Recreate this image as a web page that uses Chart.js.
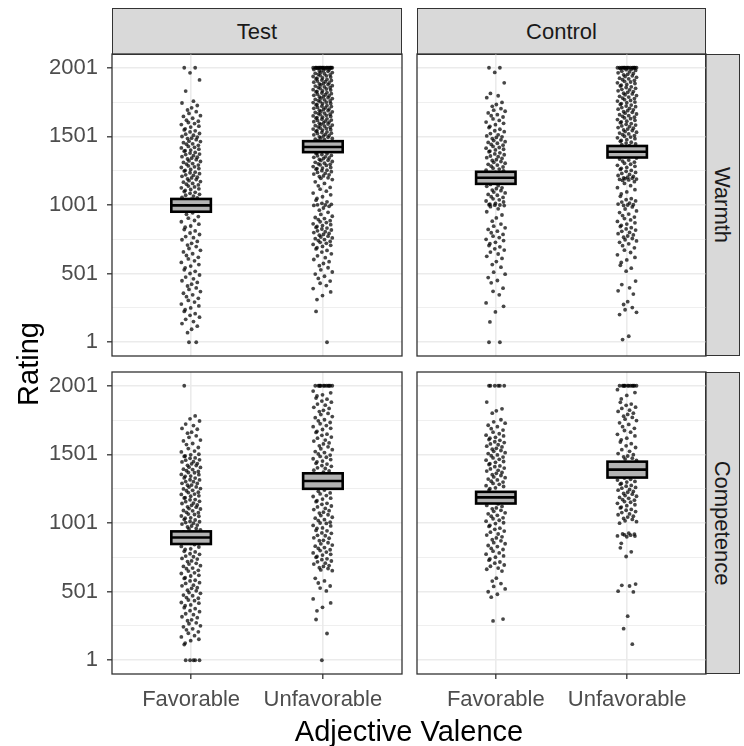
<!DOCTYPE html>
<html>
<head>
<meta charset="utf-8">
<script src="https://cdn.jsdelivr.net/npm/chart.js@4.4.1/dist/chart.umd.min.js"></script>
<style>
body { margin: 0; background: #fff; }
#wrap { position: relative; width: 744px; height: 746px; overflow: hidden; font-family: 'Liberation Sans', Arial, sans-serif; }
canvas { position: absolute; }
.strip { position: absolute; background: #d9d9d9; border: 1.3px solid #333; box-sizing: border-box; color: #1a1a1a; font-size: 22px; display: flex; align-items: center; justify-content: center; }
.vtext { transform: rotate(90deg); white-space: nowrap; }
.title { position: absolute; color: #000; font-size: 29px; line-height: 36px; text-align: center; white-space: nowrap; }
</style>
</head>
<body>
<div id="wrap">
  <div class="strip" style="left:112px;top:8px;width:290px;height:47px">Test</div>
  <div class="strip" style="left:417px;top:8px;width:289px;height:47px">Control</div>
  <div class="strip" style="left:705px;top:54px;width:35px;height:302px"><div class="vtext">Warmth</div></div>
  <div class="strip" style="left:705px;top:372px;width:35px;height:302px"><div class="vtext">Competence</div></div>
  <canvas id="tl" width="404" height="306" style="left:0px;top:52px"></canvas>
  <canvas id="tr" width="293" height="306" style="left:415px;top:52px"></canvas>
  <canvas id="bl" width="404" height="376" style="left:0px;top:370px"></canvas>
  <canvas id="br" width="293" height="376" style="left:415px;top:370px"></canvas>
  <div class="title" style="left:112px;width:594px;top:713px">Adjective Valence</div>
  <div class="title" style="left:-72px;width:200px;top:346px;transform:rotate(-90deg)">Rating</div>
</div>
<script>
// categories and ticks
const valence = ["Favorable", "Unfavorable"];
const yTicks = [1, 251, 501, 751, 1001, 1251, 1501, 1751, 2001];
const yLabels = [1, 501, 1001, 1501, 2001];

// horizontal jitter offsets, cycled over the points
const jitter = [-0.052, 0.031, -0.008, 0.064, -0.041, 0.018, -0.069, 0.047, 0.004, -0.027, 0.039, -0.016, 0.071, -0.058, 0.012, -0.035, 0.055, -0.021, 0.026, -0.074, 0.059, -0.003, -0.045];

// Warmth / Test
const warmthTestFav = [2001,2001,1964,1912,1831,1757,1744,1726,1709,1693,1681,1668,1652,1646,1633,1619,1611,1602,1594,1587,1575,1569,1556,1548,1541,1533,1522,1517,1509,1500,1496,1488,1485,1477,1466,1463,1455,1447,1444,1436,1428,1421,1417,1408,1401,1397,1393,1384,1379,1372,1368,1360,1353,1349,1342,1336,1331,1322,1318,1311,1303,1299,1292,1286,1279,1274,1266,1260,1253,1248,1240,1236,1229,1221,1217,1210,1203,1198,1191,1186,1178,1172,1167,1158,1153,1147,1139,1133,1126,1119,1114,1107,1099,1093,1086,1079,1072,1066,1057,1052,1043,1021,1006,989,972,958,944,933,917,905,888,879,861,848,839,822,812,797,786,771,763,748,736,722,709,698,684,671,659,646,633,620,608,594,583,567,556,543,529,518,502,491,476,463,449,437,424,411,397,386,370,358,347,333,321,306,294,279,266,251,238,226,209,197,184,168,152,137,118,96,71,1,1];
const warmthTestUnf = [2001,2001,2001,2001,2001,2001,2001,2001,2001,2001,2001,2001,2001,2001,2001,2001,2001,2001,2001,2001,1997,1994,1988,1986,1981,1977,1975,1968,1966,1960,1957,1953,1949,1944,1942,1937,1933,1927,1925,1919,1916,1911,1908,1904,1899,1896,1890,1887,1883,1878,1875,1870,1867,1861,1858,1855,1849,1846,1841,1838,1832,1829,1825,1820,1817,1812,1808,1804,1800,1796,1791,1788,1783,1779,1776,1770,1767,1762,1759,1754,1750,1747,1741,1739,1733,1730,1725,1721,1718,1712,1709,1705,1700,1697,1691,1688,1683,1680,1675,1671,1667,1662,1659,1654,1650,1646,1641,1638,1633,1629,1626,1620,1617,1612,1608,1605,1599,1596,1591,1588,1583,1579,1576,1570,1567,1562,1559,1554,1550,1547,1542,1538,1533,1529,1524,1521,1515,1512,1507,1503,1498,1494,1489,1486,1480,1477,1472,1446,1438,1427,1419,1404,1396,1381,1377,1374,1368,1362,1359,1352,1348,1344,1339,1333,1327,1325,1318,1312,1306,1301,1297,1293,1289,1281,1274,1270,1266,1262,1255,1251,1244,1238,1232,1226,1221,1213,1208,1199,1195,1186,1170,1158,1141,1129,1116,1102,1088,1075,1061,1049,1036,1024,1013,1006,1002,1001,998,991,979,963,948,932,919,910,902,895,887,879,873,864,858,851,845,838,833,826,819,813,806,800,794,787,781,774,768,761,756,749,742,736,729,722,714,707,699,690,681,670,658,645,631,617,604,588,575,559,544,529,513,498,482,466,447,431,414,392,368,341,312,226,1];
const warmthTestMean = [998, 1424];
const warmthTestLow = [952, 1386];
const warmthTestHigh = [1045, 1466];

// Warmth / Control
const warmthControlFav = [2001,2001,1967,1891,1814,1797,1783,1748,1733,1720,1703,1692,1684,1672,1659,1651,1642,1628,1617,1605,1596,1586,1574,1565,1553,1542,1535,1521,1512,1504,1498,1493,1485,1476,1470,1462,1457,1451,1442,1437,1428,1420,1415,1407,1402,1394,1389,1381,1373,1367,1358,1353,1346,1340,1331,1326,1317,1312,1305,1297,1292,1284,1278,1269,1263,1255,1250,1238,1222,1205,1187,1171,1162,1151,1142,1137,1126,1120,1110,1105,1095,1089,1078,1072,1062,1056,1046,1039,1030,1023,1012,1007,1003,1001,1000,997,989,973,952,928,907,883,862,847,835,823,810,799,787,774,764,751,742,729,719,706,696,682,673,658,644,627,612,589,567,548,512,497,472,451,434,395,372,347,288,263,222,149,1,1];
const warmthControlUnf = [2001,2001,2001,2001,2001,2001,2001,2001,2001,2001,2001,2001,2001,2001,2001,2001,1995,1990,1987,1981,1976,1971,1964,1959,1953,1949,1942,1937,1931,1925,1920,1914,1909,1902,1897,1891,1886,1879,1874,1868,1862,1857,1851,1844,1840,1833,1827,1822,1815,1810,1804,1798,1793,1787,1780,1776,1769,1763,1758,1751,1746,1740,1734,1729,1722,1717,1711,1705,1699,1694,1688,1681,1676,1670,1664,1659,1652,1647,1641,1635,1630,1623,1618,1612,1606,1601,1594,1589,1583,1577,1572,1565,1560,1554,1548,1543,1536,1531,1525,1519,1514,1507,1502,1496,1490,1484,1477,1471,1465,1458,1452,1446,1440,1433,1425,1410,1396,1381,1366,1352,1343,1336,1328,1321,1313,1305,1298,1290,1283,1275,1268,1260,1253,1246,1238,1231,1224,1216,1209,1203,1199,1196,1193,1190,1187,1184,1180,1171,1158,1142,1127,1113,1096,1081,1064,1047,1040,1031,1022,1015,1008,1003,1001,998,987,972,958,946,935,924,913,902,892,881,871,862,853,844,836,827,818,809,801,792,783,775,766,757,748,739,729,718,705,689,672,655,638,619,601,583,562,541,519,447,421,398,376,352,297,276,254,238,219,203,45,21];
const warmthControlMean = [1199, 1389];
const warmthControlLow = [1155, 1347];
const warmthControlHigh = [1243, 1431];

// Competence / Test
const competenceTestFav = [2001,1781,1760,1744,1722,1711,1690,1684,1663,1655,1636,1625,1605,1599,1580,1572,1551,1543,1525,1519,1502,1498,1489,1486,1475,1472,1461,1459,1448,1446,1434,1432,1421,1419,1408,1406,1393,1390,1382,1376,1369,1367,1355,1353,1343,1341,1329,1328,1316,1315,1303,1302,1290,1289,1277,1276,1264,1263,1252,1249,1239,1236,1225,1223,1212,1209,1199,1196,1185,1183,1172,1170,1159,1156,1146,1143,1132,1130,1119,1116,1106,1103,1092,1090,1079,1076,1066,1063,1052,1050,1039,1036,1026,1023,1012,1010,1004,1000,993,986,979,972,961,958,951,936,913,899,876,863,844,830,826,813,808,795,790,777,773,760,755,743,738,725,720,707,702,690,685,673,668,656,651,638,633,620,615,602,597,584,579,566,561,548,543,530,525,512,507,494,489,476,471,458,453,440,435,422,417,404,399,384,377,362,355,340,333,318,311,296,289,274,267,252,245,230,223,208,198,180,171,154,144,126,115,1,1,1,1,1];
const competenceTestUnf = [2001,2001,2001,2001,2001,2001,2001,2001,2001,2001,2001,2001,1962,1949,1935,1926,1911,1903,1889,1881,1867,1859,1844,1836,1822,1813,1799,1791,1776,1768,1753,1745,1733,1724,1711,1703,1691,1682,1669,1661,1648,1640,1627,1619,1605,1598,1584,1577,1563,1556,1542,1535,1521,1514,1504,1496,1486,1480,1469,1463,1452,1447,1436,1430,1419,1414,1403,1398,1386,1381,1372,1355,1331,1307,1284,1262,1241,1232,1220,1213,1201,1194,1182,1175,1163,1156,1144,1137,1125,1118,1107,1099,1091,1080,1073,1061,1055,1043,1036,1025,1019,1007,1001,998,983,980,965,962,947,944,929,926,911,908,893,890,875,872,857,849,840,832,822,816,806,800,789,783,773,767,757,751,740,734,724,718,708,702,691,685,675,669,659,654,598,579,564,542,527,506,448,419,387,361,298,196,1];
const competenceTestMean = [895, 1307];
const competenceTestLow = [848, 1250];
const competenceTestHigh = [940, 1363];

// Competence / Control
const competenceControlFav = [2001,2001,2001,2001,2001,2001,1882,1833,1818,1801,1753,1738,1728,1713,1703,1688,1678,1663,1651,1641,1635,1625,1619,1609,1603,1593,1587,1577,1571,1561,1555,1545,1539,1529,1523,1513,1507,1497,1491,1481,1475,1465,1459,1449,1443,1433,1427,1417,1411,1401,1395,1385,1379,1369,1363,1353,1347,1337,1331,1321,1315,1305,1299,1289,1283,1273,1267,1257,1251,1241,1219,1199,1175,1155,1140,1129,1122,1111,1104,1093,1086,1075,1068,1057,1050,1039,1032,1021,1014,1003,997,984,976,963,955,942,934,921,913,900,892,879,871,858,850,837,829,816,808,796,783,774,761,752,739,730,717,708,695,686,673,664,651,599,578,560,539,521,500,482,461,301,288];
const competenceControlUnf = [2001,2001,2001,2001,2001,2001,2001,2001,2001,2001,2001,2001,1972,1951,1930,1905,1880,1867,1858,1845,1836,1823,1814,1801,1792,1779,1770,1757,1747,1731,1719,1703,1691,1675,1663,1647,1635,1619,1607,1591,1579,1563,1551,1535,1523,1507,1499,1489,1483,1473,1467,1457,1441,1411,1385,1355,1328,1319,1314,1304,1299,1289,1284,1275,1269,1260,1255,1245,1240,1231,1225,1216,1211,1201,1196,1187,1181,1172,1167,1157,1152,1144,1134,1127,1117,1111,1100,1094,1084,1077,1067,1061,1050,1044,1034,1027,1017,1011,1000,927,921,920,914,912,907,906,901,853,820,791,757,556,547,542,504,499,322,231,118];
const competenceControlMean = [1188, 1390];
const competenceControlLow = [1143, 1332];
const competenceControlHigh = [1228, 1448];

Chart.defaults.font.family = "'Liberation Sans', Arial, sans-serif";

const barHalf = 0.15;

// crossbars + panel border
const panelPlugin = {
  id: 'crossbar',
  afterDatasetsDraw(chart, args, opts) {
    const { ctx, scales: { x, y } } = chart;
    ctx.save();
    opts.mean.forEach((m, i) => {
      const xl = x.getPixelForValue(i + 1 - barHalf);
      const xr = x.getPixelForValue(i + 1 + barHalf);
      const yt = y.getPixelForValue(opts.high[i]);
      const yb = y.getPixelForValue(opts.low[i]);
      const ym = y.getPixelForValue(m);
      ctx.fillStyle = '#b3b3b3';
      ctx.fillRect(xl, yt, xr - xl, yb - yt);
      ctx.lineWidth = 2.6;
      ctx.strokeStyle = '#000';
      ctx.strokeRect(xl, yt, xr - xl, yb - yt);
      ctx.beginPath();
      ctx.moveTo(xl, ym);
      ctx.lineTo(xr, ym);
      ctx.stroke();
    });
    const a = chart.chartArea;
    ctx.lineWidth = 1.3;
    ctx.strokeStyle = '#333';
    ctx.strokeRect(a.left, a.top, a.right - a.left, a.bottom - a.top);
    ctx.restore();
  }
};

function makePanel(id, fav, unf, mean, low, high, showY, showX) {
  const pts = fav.map((v, i) => ({ x: 1 + jitter[i % jitter.length], y: v }))
    .concat(unf.map((v, i) => ({ x: 2 + jitter[(i + 7) % jitter.length], y: v })));
  return new Chart(document.getElementById(id), {
    type: 'scatter',
    data: {
      datasets: [{ data: pts, pointRadius: 1.9, pointHoverRadius: 1.9, borderWidth: 0, backgroundColor: 'rgba(0,0,0,0.72)' }]
    },
    options: {
      responsive: false,
      animation: false,
      events: [],
      layout: { padding: { top: 2, right: 2, left: 0, bottom: 0 } },
      plugins: {
        legend: { display: false },
        tooltip: { enabled: false },
        crossbar: { mean: mean, low: low, high: high }
      },
      scales: {
        x: {
          type: 'linear', min: 0.4, max: 2.6,
          afterBuildTicks: s => { s.ticks = valence.map((_, i) => ({ value: i + 1 })); },
          afterFit: s => { s.height = showX ? 72 : 2; s.paddingLeft = 0; s.paddingRight = 0; },
          border: { display: false },
          grid: { color: '#ebebeb', lineWidth: 1.6, drawTicks: showX, tickLength: 5, tickColor: '#333', tickWidth: 1.3 },
          ticks: { display: showX, autoSkip: false, maxRotation: 0, padding: 8, color: '#4d4d4d', font: { size: 22 },
                   callback: v => valence[Math.round(v) - 1] }
        },
        y: {
          min: -99, max: 2101,
          afterBuildTicks: s => { s.ticks = yTicks.map(v => ({ value: v })); },
          afterFit: s => { s.width = showY ? 112 : 2; s.paddingTop = 0; s.paddingBottom = 0; },
          border: { display: false },
          grid: {
            color: '#ebebeb',
            lineWidth: c => yLabels.includes(c.tick.value) ? 1.6 : 0.8,
            drawTicks: showY, tickLength: 5, tickWidth: 1.3,
            tickColor: c => yLabels.includes(c.tick.value) ? '#333' : 'rgba(0,0,0,0)'
          },
          ticks: { display: showY, padding: 9, color: '#4d4d4d', font: { size: 22 },
                   callback: v => yLabels.includes(v) ? String(v) : '' }
        }
      }
    },
    plugins: [panelPlugin]
  });
}

makePanel('tl', warmthTestFav, warmthTestUnf, warmthTestMean, warmthTestLow, warmthTestHigh, true, false);
makePanel('tr', warmthControlFav, warmthControlUnf, warmthControlMean, warmthControlLow, warmthControlHigh, false, false);
makePanel('bl', competenceTestFav, competenceTestUnf, competenceTestMean, competenceTestLow, competenceTestHigh, true, true);
makePanel('br', competenceControlFav, competenceControlUnf, competenceControlMean, competenceControlLow, competenceControlHigh, false, true);
</script>
</body>
</html>
